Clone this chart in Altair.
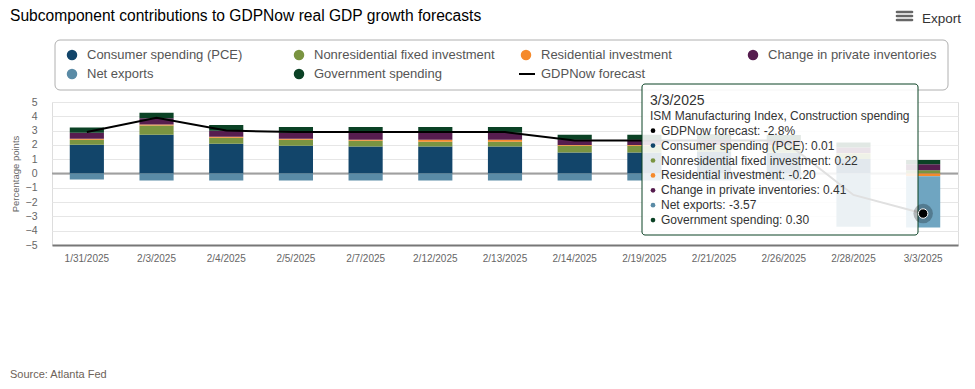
import altair as alt
import pandas as pd

dates = ["1/31/2025", "2/3/2025", "2/4/2025", "2/5/2025", "2/7/2025", "2/12/2025", "2/13/2025",
         "2/14/2025", "2/19/2025", "2/21/2025", "2/26/2025", "2/28/2025", "3/3/2025"]
series_names = ["Consumer spending (PCE)", "Nonresidential fixed investment", "Residential investment",
                "Change in private inventories", "Net exports", "Government spending"]
pce = [2.01, 2.71, 2.08, 1.94, 1.88, 1.88, 1.88, 1.46, 1.46, 1.50, 1.45, 1.02, 0.01]
nfi = [0.35, 0.64, 0.42, 0.42, 0.41, 0.34, 0.34, 0.48, 0.48, 0.45, 0.45, 0.39, 0.22]
res = [0.07, 0.07, 0.07, 0.07, 0.07, 0.14, 0.14, 0.05, 0.05, 0.05, 0.05, 0.02, -0.20]
inv = [0.42, 0.45, 0.42, 0.42, 0.49, 0.49, 0.49, 0.37, 0.37, 0.40, 0.40, 0.38, 0.41]
nx = [-0.42, -0.49, -0.49, -0.49, -0.49, -0.49, -0.49, -0.49, -0.49, -0.49, -0.49, -3.73, -3.57]
gov = [0.36, 0.37, 0.41, 0.41, 0.41, 0.41, 0.41, 0.35, 0.35, 0.35, 0.35, 0.36, 0.30]
gdpnow = [2.9, 3.9, 3.0, 2.9, 2.9, 2.9, 2.9, 2.3, 2.3, 2.3, 2.3, -1.5, -2.8]
colors = ["#12456a", "#7a9441", "#f58a2c", "#561d4f", "#5a8ba6", "#0b4225"]
y_ticks = [-5, -4, -3, -2, -1, 0, 1, 2, 3, 4, 5]

hover_date = "3/3/2025"
tooltip_sub = "ISM Manufacturing Index, Construction spending"

FONT = "Liberation Sans"

series_vals = [pce, nfi, res, inv, nx, gov]
rows = []
for si, (name, vals) in enumerate(zip(series_names, series_vals)):
    for d, v in zip(dates, vals):
        rows.append({"date": d, "series": name, "value": v, "order": si,
                     "hover": (d == hover_date and name == "Net exports")})
bars_df = pd.DataFrame(rows)
line_df = pd.DataFrame({"date": dates, "gdpnow": gdpnow})

W, H = 906, 143

x_axis = alt.Axis(title=None, labelAngle=0, labelFontSize=10, labelColor="#666666",
                  labelPadding=8, ticks=False, domain=True, domainColor="#777777",
                  domainWidth=2, grid=False, labelFont=FONT, labelOverlap=False)
x_scale = alt.Scale(paddingInner=0.51, paddingOuter=0.255)
y_scale = alt.Scale(domain=[-5, 5], nice=False)
y_axis = alt.Axis(title="Percentage points", values=y_ticks, labelFontSize=10.5,
                  labelColor="#666666", labelPadding=15, ticks=False, domain=False,
                  grid=True, gridColor="#e6e6e6", titleFontSize=9.5, titleFontWeight="normal",
                  titleColor="#666666", labelFont=FONT, titleFont=FONT,
                  labelOverlap=False, labelBound=False, labelFlush=False,
                  titleX=-37, titleY=71.5, titleAngle=270, titleAlign="center",
                  titleBaseline="middle")


def xe():
    return alt.X("date:N", sort=dates, scale=x_scale, axis=x_axis)


def ye(field, **kw):
    return alt.Y(field, scale=y_scale, axis=y_axis, **kw)


zero_rule = alt.Chart(pd.DataFrame({"z": [0]})).mark_rule(color="#a0a0a0", strokeWidth=2).encode(
    y=ye("z:Q"))

bars = alt.Chart(bars_df).mark_bar().encode(
    x=xe(),
    y=ye("value:Q", stack="zero"),
    color=alt.condition(alt.datum.hover, alt.value("#6fa5c1"),
                        alt.Color("series:N", scale=alt.Scale(domain=series_names, range=colors),
                                  legend=None)),
    order=alt.Order("order:Q"),
)

line = alt.Chart(line_df).mark_line(color="black", strokeWidth=2).encode(
    x=xe(), y=ye("gdpnow:Q"))

hover_df = line_df[line_df["date"] == hover_date]
halo = alt.Chart(hover_df).mark_point(filled=True, color="#000000", opacity=0.25, size=380).encode(
    x=xe(), y=ye("gdpnow:Q"))
marker = alt.Chart(hover_df).mark_point(filled=True, color="#000000", opacity=1, size=90,
                                        stroke="#ffffff", strokeWidth=1).encode(
    x=xe(), y=ye("gdpnow:Q"))

one = pd.DataFrame({"a": [0]})

# Title / export / source
title = alt.Chart(one).mark_text(text="Subcomponent contributions to GDPNow real GDP growth forecasts",
                                 align="left", baseline="alphabetic", fontSize=15.6, font=FONT,
                                 color="#000000").encode(x=alt.value(-42), y=alt.value(-81.5))
export_txt = alt.Chart(one).mark_text(text="Export", align="left", baseline="middle", fontSize=13.5,
                                      font=FONT, color="#333333").encode(x=alt.value(870), y=alt.value(-83))
icon_df = pd.DataFrame({"iy": [-90, -86, -82]})
export_icon = alt.Chart(icon_df).mark_rule(color="#666666", strokeWidth=2.6, strokeCap="round").encode(
    x=alt.value(845), x2=alt.value(860), y=alt.Y("iy:Q", scale=None))
source = alt.Chart(one).mark_text(text="Source: Atlanta Fed", align="left", baseline="middle",
                                  fontSize=11, font=FONT, color="#6d6258").encode(
    x=alt.value(-42), y=alt.value(273))

# Legend
legend_box = alt.Chart(one).mark_rect(fill="white", fillOpacity=0, stroke="#b0b0b0", strokeWidth=1,
                                      cornerRadius=5).encode(
    x=alt.value(3), x2=alt.value(896), y=alt.value(-62), y2=alt.value(-12))
leg_names = series_names + ["GDPNow forecast"]
leg_colors = colors + ["#000000"]
leg_rows = []
for i, (n, c) in enumerate(zip(leg_names, leg_colors)):
    col, row = i % 4, i // 4
    leg_rows.append({"name": n, "c": c, "sx": 20 + col * 227, "tx": 35 + col * 227,
                     "ly": -47 + row * 19, "kind": "line" if n == "GDPNow forecast" else "dot"})
leg_df = pd.DataFrame(leg_rows)
leg_dots = alt.Chart(leg_df[leg_df.kind == "dot"]).mark_point(filled=True, size=110, opacity=1).encode(
    x=alt.X("sx:Q", scale=None), y=alt.Y("ly:Q", scale=None),
    color=alt.Color("c:N", scale=None))
line_leg = leg_df[leg_df.kind == "line"].copy()
line_leg["x1"] = line_leg["sx"] - 7
line_leg["x2"] = line_leg["sx"] + 9
leg_line = alt.Chart(line_leg).mark_rule(color="black", strokeWidth=2).encode(
    x=alt.X("x1:Q", scale=None), x2=alt.X2("x2:Q"), y=alt.Y("ly:Q", scale=None))
leg_text = alt.Chart(leg_df).mark_text(align="left", baseline="middle", fontSize=13, font=FONT,
                                       color="#555555").encode(
    x=alt.X("tx:Q", scale=None), y=alt.Y("ly:Q", scale=None), text="name:N")

# Tooltip
hi = dates.index(hover_date)
tip_lines = [f"GDPNow forecast: {gdpnow[hi]:.1f}%"] + \
            [f"{n}: {v[hi]:.2f}" for n, v in zip(series_names, series_vals)]
tip_colors = ["#000000"] + colors
tip_df = pd.DataFrame({"t": tip_lines, "c": tip_colors,
                       "ty": [28.7 + 14.9 * i for i in range(len(tip_lines))]})
tip_box = alt.Chart(one).mark_rect(fill="white", fillOpacity=0.88, stroke="#0b4225", strokeWidth=1,
                                   cornerRadius=3).encode(
    x=alt.value(590), x2=alt.value(866), y=alt.value(-18), y2=alt.value(133))
tip_head = alt.Chart(one).mark_text(text=hover_date, align="left", baseline="middle", fontSize=14,
                                    font=FONT, color="#333333").encode(x=alt.value(598), y=alt.value(-1.5))
tip_sub = alt.Chart(one).mark_text(text=tooltip_sub, align="left", baseline="middle", fontSize=12,
                                   font=FONT, color="#333333").encode(x=alt.value(598), y=alt.value(14))
tip_dots = alt.Chart(tip_df).mark_point(filled=True, size=22, opacity=1).encode(
    x=alt.value(601), y=alt.Y("ty:Q", scale=None), color=alt.Color("c:N", scale=None))
tip_text = alt.Chart(tip_df).mark_text(align="left", baseline="middle", fontSize=12, font=FONT,
                                       color="#333333").encode(
    x=alt.value(609), y=alt.Y("ty:Q", scale=None), text="t:N")

chart = alt.layer(
    zero_rule, bars, line, title, export_icon, export_txt, source,
    legend_box, leg_dots, leg_line, leg_text,
    tip_box, halo, marker, tip_head, tip_sub, tip_dots, tip_text
).properties(
    width=W, height=H,
    autosize=alt.AutoSizeParams(type="none"),
    padding={"left": 44, "top": 94, "right": 9, "bottom": 135},
).configure_view(stroke=None).configure(font=FONT)

chart.save("out.html", embed_options={"renderer": "svg", "actions": False})
